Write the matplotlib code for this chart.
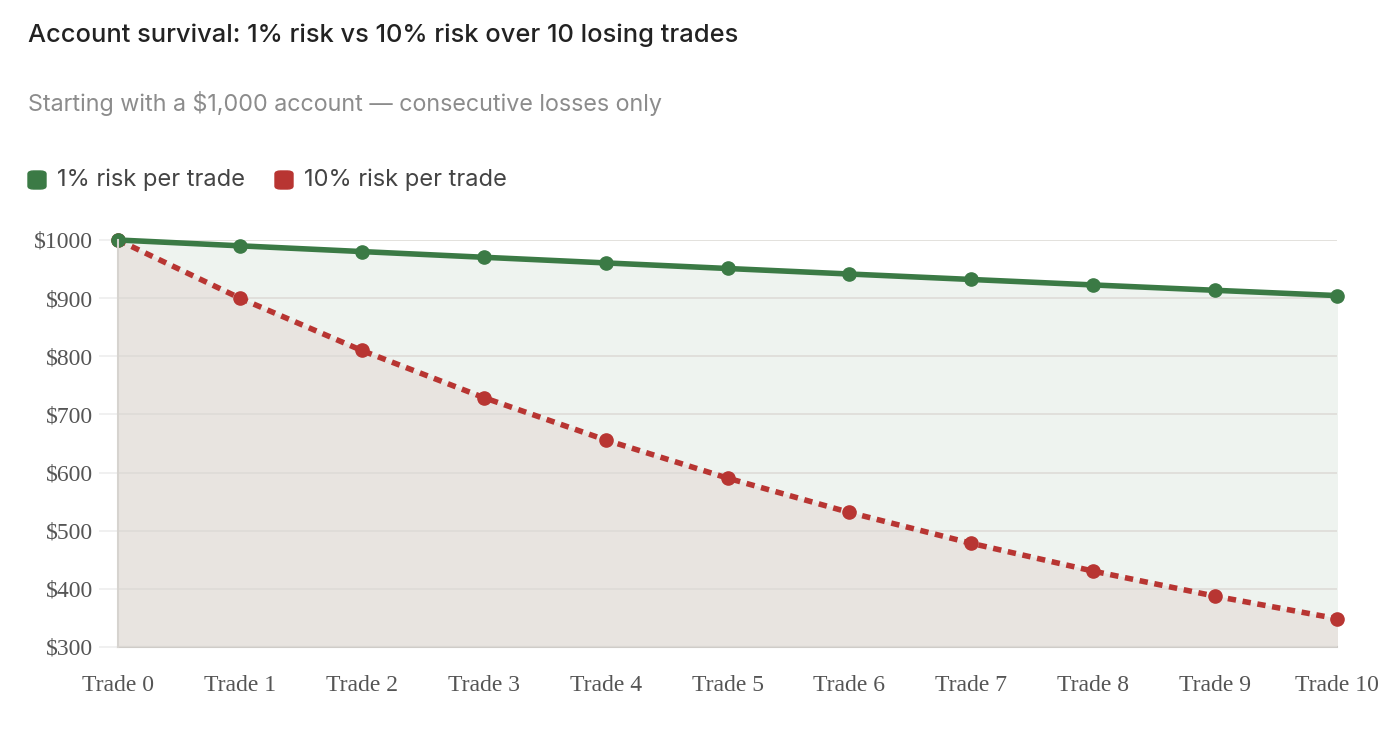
import numpy as np
import matplotlib.pyplot as plt
from matplotlib.patches import FancyBboxPatch

# data
trades = ["Trade 0", "Trade 1", "Trade 2", "Trade 3", "Trade 4", "Trade 5",
          "Trade 6", "Trade 7", "Trade 8", "Trade 9", "Trade 10"]
risk_1pct = [1000, 990, 980.1, 970.3, 960.6, 951.0, 941.5, 932.1, 922.7, 913.5, 904.4]
risk_10pct = [1000, 900, 810, 729, 656.1, 590.5, 531.4, 478.3, 430.5, 387.4, 348.7]
yticks = [300, 400, 500, 600, 700, 800, 900, 1000]

GREEN = "#3b7a45"
RED = "#b83532"
SANS = ["Inter", "DejaVu Sans"]
SERIF = ["Liberation Serif", "DejaVu Serif"]

fig = plt.figure(figsize=(13.97, 7.33), dpi=100)
ax = fig.add_axes([118/1397, 86/733, (1337-118)/1397, (647-240)/733])

x = np.arange(len(trades))
ax.fill_between(x, 300, risk_1pct, color="#eef3ef", zorder=1)
ax.fill_between(x, 300, risk_10pct, color="#e8e4e0", zorder=2)
for y in yticks:
    ax.axhline(y, color="#dedbd7", lw=1.2, zorder=3)

ax.plot(x, risk_1pct, color=GREEN, lw=4, marker="o", ms=9.5, zorder=5, clip_on=False)
ax.plot(x, risk_10pct, color=RED, lw=4, ls=(0, (1.5, 1.2)), marker="o", ms=9.5,
        zorder=4, clip_on=False)

ax.set_xlim(0, 10)
ax.set_ylim(300, 1000)
ax.set_xticks(x)
ax.set_xticklabels(trades)
ax.set_yticks(yticks)
ax.set_yticklabels([f"${v}" for v in yticks])
for lab in ax.get_xticklabels() + ax.get_yticklabels():
    lab.set_family(SERIF)
    lab.set_fontsize(17)
    lab.set_color("#555555")
ax.tick_params(axis="x", length=0, pad=20)
ax.tick_params(axis="y", length=14, width=1.2, color="#eeeeee", pad=4)
for s in ["top", "right"]:
    ax.spines[s].set_visible(False)
ax.spines["left"].set_color("#d6d3cf")
ax.spines["left"].set_linewidth(1.5)
ax.spines["bottom"].set_color("#cfccc8")
ax.spines["bottom"].set_linewidth(1.5)
ax.spines["left"].set_zorder(6)

fig.text(28/1397, 1 - 35/733, "Account survival: 1% risk vs 10% risk over 10 losing trades",
         family=SANS, fontsize=18.3, fontweight="medium", color="#222222",
         va="center", ha="left")
fig.text(28/1397, 1 - 103/733, "Starting with a $1,000 account \u2014 consecutive losses only",
         family=SANS, fontsize=16.8, color="#8c8c8c", va="center", ha="left")

# legend
for lx, col, lab in [(28, GREEN, "1% risk per trade"), (275, RED, "10% risk per trade")]:
    fig.patches.append(FancyBboxPatch((lx/1397, 1 - 189/733), 18/1397, 18/733,
                                      boxstyle="round,pad=0,rounding_size=0.004",
                                      transform=fig.transFigure, color=col))
    fig.text((lx + 29)/1397, 1 - 180/733, lab, family=SANS, fontsize=17,
             color="#444444", va="center", ha="left")

fig.savefig("out.png", dpi=100)
